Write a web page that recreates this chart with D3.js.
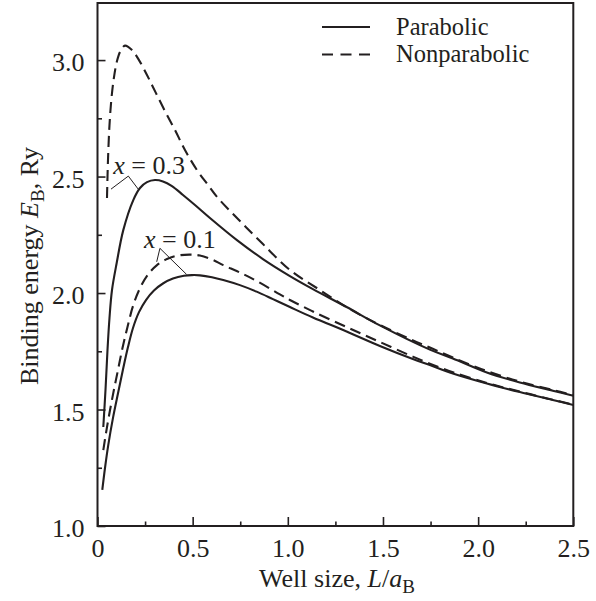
<!DOCTYPE html>
<html><head><meta charset="utf-8">
<script src="https://cdn.jsdelivr.net/npm/d3@7"></script>
<style>body{margin:0;background:#fff}svg{display:block}text{font-family:"Liberation Serif","Times New Roman",serif;fill:#231f20}</style>
</head><body><svg id="c" width="596" height="601"></svg>
<script>
// Parabolic, x = 0.3
const L_par03 = [0.0305,0.0420,0.0525,0.0630,0.0762,0.1008,0.1355,0.1880,0.2232,0.2600,0.3020,0.3440,0.3913,0.4491,0.5121,0.5909,0.7327,0.8692,1.0110,1.1318,1.3088,1.4837,1.7463,1.8671,2.0457,2.2190,2.3923,2.5];
const E_par03 = [1.425,1.584,1.755,1.893,2.013,2.129,2.270,2.399,2.451,2.476,2.485,2.479,2.459,2.421,2.378,2.322,2.227,2.146,2.073,2.017,1.940,1.861,1.757,1.719,1.659,1.616,1.581,1.559];
// Nonparabolic, x = 0.3
const L_non03 = [0.0499,0.0551,0.0630,0.0735,0.0867,0.1024,0.1208,0.1444,0.1812,0.2180,0.2600,0.3073,0.3545,0.4070,0.4596,0.5226,0.5804,0.6329,0.7484,0.8692,1.0110,1.1686,1.3262,1.4837,1.6413,1.7463,1.8671,2.0457,2.2190,2.3923,2.5];
const E_non03 = [2.408,2.571,2.721,2.837,2.927,2.996,3.039,3.062,3.043,3.000,2.936,2.858,2.781,2.700,2.614,2.528,2.464,2.408,2.309,2.210,2.099,2.013,1.931,1.863,1.803,1.766,1.723,1.665,1.620,1.584,1.562];
// Parabolic, x = 0.1
const L_par01 = [0.0252,0.0394,0.0567,0.0814,0.1092,0.1355,0.1602,0.1865,0.2180,0.2547,0.2967,0.3440,0.3965,0.4543,0.4963,0.5383,0.6013,0.6607,0.7484,0.8361,0.9218,1.0110,1.1318,1.3088,1.4837,1.6570,1.7463,1.8671,2.0457,2.2190,2.3923,2.5];
const E_par01 = [1.155,1.249,1.348,1.464,1.575,1.678,1.768,1.850,1.918,1.970,2.011,2.041,2.062,2.074,2.077,2.076,2.068,2.056,2.034,2.006,1.974,1.940,1.895,1.835,1.773,1.717,1.691,1.655,1.612,1.575,1.541,1.519];
// Nonparabolic, x = 0.1
const L_non01 = [0.0305,0.0446,0.0630,0.0840,0.1077,0.1313,0.1576,0.1864,0.2232,0.2652,0.3125,0.3650,0.4228,0.4858,0.5383,0.6013,0.6607,0.7484,0.8361,0.9585,1.0110,1.1318,1.3088,1.4837,1.6570,1.7463,1.8671,2.0457,2.2190,2.3923,2.5];
const E_non01 = [1.326,1.399,1.485,1.575,1.670,1.764,1.854,1.944,2.021,2.079,2.120,2.146,2.161,2.165,2.161,2.144,2.120,2.088,2.052,1.994,1.970,1.921,1.854,1.790,1.727,1.697,1.660,1.614,1.577,1.542,1.521];

const xMajor = [0,0.5,1.0,1.5,2.0,2.5];
const xMajorLabels = ["0","0.5","1.0","1.5","2.0","2.5"];
const xMinor = [0.25,0.75,1.25,1.75,2.25];
const yMajor = [1.0,1.5,2.0,2.5,3.0];
const yMajorLabels = ["1.0","1.5","2.0","2.5","3.0"];
const yMinor = [1.25,1.75,2.25,2.75];

const legendLabels = ["Parabolic","Nonparabolic"];
// annotations: label anchor and leader points, in data units
const ann03 = {text:"0.3", at:[0.083,2.509], leader:[[0.071,2.446],[0.162,2.502],[0.214,2.446]]};
const ann01 = {text:"0.1", at:[0.244,2.192], leader:[[0.311,2.134],[0.328,2.192],[0.468,2.080]]};

const svg = d3.select("#c");
const m = {l:97.5, r:22.7, t:3, b:75};
const W = 596, H = 601;
const x = d3.scaleLinear().domain([0,2.5]).range([m.l, W-m.r]);
const y = d3.scaleLinear().domain([1,3.245]).range([H-m.b, m.t]);
const ink = "#231f20";

const line = d3.line().x(d=>x(d[0])).y(d=>y(d[1])).curve(d3.curveCatmullRom.alpha(0.5));
const series = [
  {L:L_non03,E:E_non03,dash:"11,6"},
  {L:L_non01,E:E_non01,dash:"11,6"},
  {L:L_par03,E:E_par03,dash:null},
  {L:L_par01,E:E_par01,dash:null}
];
series.forEach(s=>{
  svg.append("path").datum(d3.zip(s.L,s.E)).attr("d",line)
    .attr("fill","none").attr("stroke",ink).attr("stroke-width",2.1)
    .attr("stroke-dasharray",s.dash);
});

// frame
svg.append("rect").attr("x",x(0)).attr("y",y(3.245)).attr("width",x(2.5)-x(0)).attr("height",y(1)-y(3.245))
  .attr("fill","none").attr("stroke",ink).attr("stroke-width",2);

// x axis ticks (inward)
const gx = svg.append("g").attr("transform",`translate(0,${y(1)})`);
gx.call(d3.axisBottom(x).tickValues(xMajor).tickSizeInner(-9).tickSizeOuter(0).tickFormat((d,i)=>xMajorLabels[i]));
gx.append("g").call(d3.axisBottom(x).tickValues(xMinor).tickSizeInner(-4.5).tickSizeOuter(0).tickFormat(""));
gx.selectAll(".domain").remove();
gx.selectAll("line").attr("stroke",ink).attr("stroke-width",1.6);
gx.selectAll("text").attr("font-size",26).attr("dy",null).attr("y",31).attr("fill",ink)
  .attr("font-family","Liberation Serif");

// y axis ticks (inward)
const gy = svg.append("g").attr("transform",`translate(${x(0)},0)`);
gy.call(d3.axisLeft(y).tickValues(yMajor).tickSizeInner(-8).tickSizeOuter(0).tickFormat((d,i)=>yMajorLabels[i]));
gy.append("g").call(d3.axisLeft(y).tickValues(yMinor).tickSizeInner(-4.5).tickSizeOuter(0).tickFormat(""));
gy.selectAll(".domain").remove();
gy.selectAll("line").attr("stroke",ink).attr("stroke-width",1.6);
gy.selectAll("text").attr("font-size",26).attr("x",-13).attr("dy","0.42em").attr("fill",ink)
  .attr("font-family","Liberation Serif");

// axis titles
const xt = svg.append("text").attr("x",337).attr("y",587).attr("text-anchor","middle").attr("font-size",26);
xt.append("tspan").text("Well size, ");
xt.append("tspan").attr("font-style","italic").text("L");
xt.append("tspan").text("/");
xt.append("tspan").attr("font-style","italic").text("a");
xt.append("tspan").attr("font-size",19).attr("dy",6).text("B");

const yt = svg.append("text").attr("transform","translate(38,266) rotate(-90)").attr("text-anchor","middle").attr("font-size",26);
yt.append("tspan").text("Binding energy ");
yt.append("tspan").attr("font-style","italic").text("E");
yt.append("tspan").attr("font-size",19).attr("dy",6).text("B");
yt.append("tspan").attr("dy",-6).text(", Ry");

// legend
const leg = svg.append("g");
legendLabels.forEach((lab,i)=>{
  const ly = 27 + i*27.5;
  leg.append("line").attr("x1",322).attr("x2",370).attr("y1",ly).attr("y2",ly)
    .attr("stroke",ink).attr("stroke-width",2.1).attr("stroke-dasharray",i===1?"11,7.5":null);
  leg.append("text").attr("x",396).attr("y",ly+7.5).attr("font-size",24.5).text(lab);
});

// annotations
[ann03,ann01].forEach(a=>{
  const t = svg.append("text").attr("x",x(a.at[0])).attr("y",y(a.at[1])).attr("font-size",26);
  t.append("tspan").attr("font-style","italic").text("x");
  t.append("tspan").text(" = "+a.text);
  svg.append("path").datum(a.leader).attr("d",d3.line().x(d=>x(d[0])).y(d=>y(d[1])))
    .attr("fill","none").attr("stroke",ink).attr("stroke-width",1);
});
</script></body></html>
